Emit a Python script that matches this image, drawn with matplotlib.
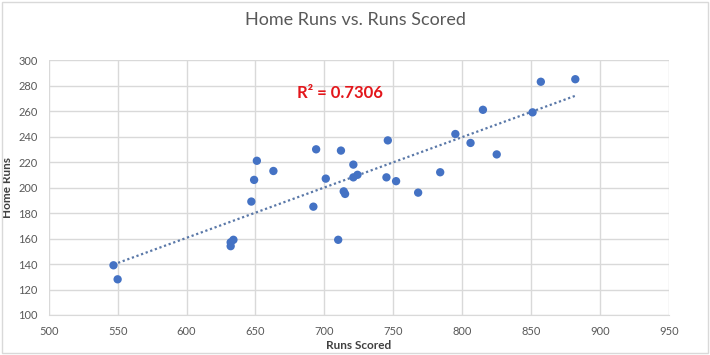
import matplotlib
matplotlib.use('Agg')
import matplotlib.pyplot as plt
import numpy as np

runs_scored = [547, 550, 632, 632, 634, 647, 649, 651, 663, 692, 694, 701, 712,
               710, 714, 715, 721, 721, 724, 746, 745, 752, 768, 784, 795, 806,
               815, 825, 851, 857, 882]
home_runs = [139, 128, 154, 157, 159, 189, 206, 221, 213, 185, 230, 207, 229,
             159, 197, 195, 218, 208, 210, 237, 208, 205, 196, 212, 242, 235,
             261, 226, 259, 283, 285]
r2_label = 'R² = 0.7306'

plt.rcParams['font.family'] = ['Lato', 'DejaVu Sans']

fig = plt.figure(figsize=(7.1, 3.55), dpi=100)
ax = fig.add_axes([0.0686, 0.1127, 0.8737, 0.718])

x = np.array(runs_scored)
y = np.array(home_runs)
m, b = np.polyfit(x, y, 1)
xs = np.array([x.min(), x.max()])
ax.plot(xs, m * xs + b, linestyle=(0, (1, 1.2)), color='#5a78a8', lw=1.6, zorder=2)
ax.scatter(x, y, s=36, color='#4472C4', zorder=3, edgecolors='none')

ax.set_xlim(500, 950)
ax.set_ylim(100, 300)
ax.set_xticks(range(500, 951, 50))
ax.set_yticks(range(100, 301, 20))
ax.grid(True, color='#d9d9d9', lw=1)
ax.set_axisbelow(True)
for s in ax.spines.values():
    s.set_visible(False)
ax.spines['bottom'].set_visible(True)
ax.spines['bottom'].set_color('#d9d9d9')
ax.tick_params(length=0, labelsize=8, colors='#595959', pad=8)

ax.set_xlabel('Runs Scored', fontsize=8.5, fontweight='bold', color='#404040', labelpad=2)
ax.set_ylabel('Home Runs', fontsize=8.5, fontweight='bold', color='#404040', labelpad=4)
ax.text(711, 274, r2_label, color='#e3161b', fontsize=12, fontweight='bold',
        ha='center', va='center')
fig.text(0.5, 0.943, 'Home Runs vs. Runs Scored', ha='center', va='center',
         fontsize=13, color='#595959')

fig.patches.append(plt.Rectangle((0.003, 0.005), 0.994, 0.99, transform=fig.transFigure,
                                 fill=False, edgecolor='#d9d9d9', lw=1))
fig.savefig('out.png', dpi=100)
